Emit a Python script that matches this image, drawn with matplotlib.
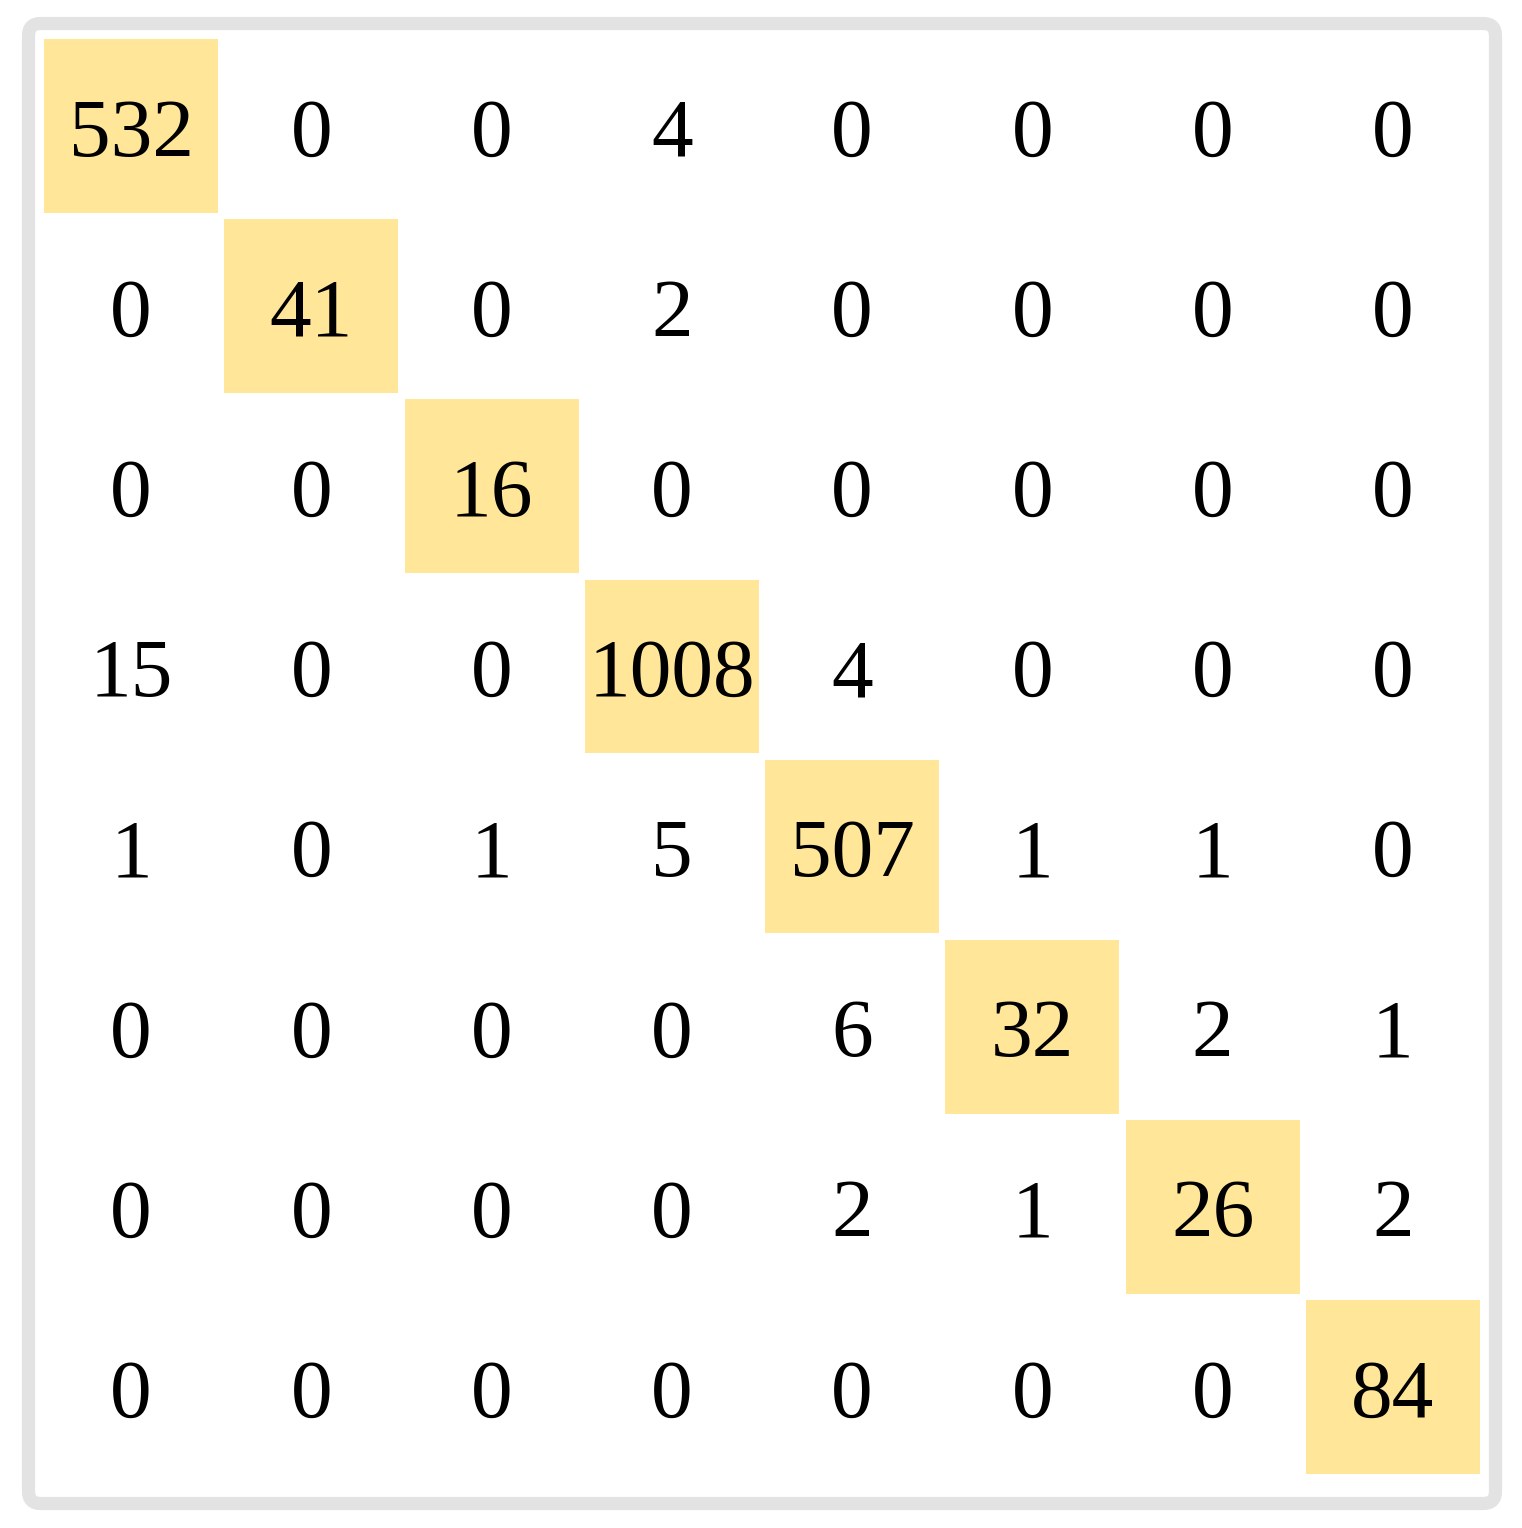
import matplotlib.pyplot as plt
from matplotlib.patches import Rectangle, FancyBboxPatch

# confusion matrix counts (rows = true class, cols = predicted class)
row0 = [532, 0, 0, 4, 0, 0, 0, 0]
row1 = [0, 41, 0, 2, 0, 0, 0, 0]
row2 = [0, 0, 16, 0, 0, 0, 0, 0]
row3 = [15, 0, 0, 1008, 4, 0, 0, 0]
row4 = [1, 0, 1, 5, 507, 1, 1, 0]
row5 = [0, 0, 0, 0, 6, 32, 2, 1]
row6 = [0, 0, 0, 0, 2, 1, 26, 2]
row7 = [0, 0, 0, 0, 0, 0, 0, 84]
matrix = [row0, row1, row2, row3, row4, row5, row6, row7]

W, H = 1522, 1528
fig = plt.figure(figsize=(W / 100, H / 100), dpi=100)

# gray outer frame
frame = FancyBboxPatch((28.5 / W, 1 - 1503.5 / H), 1467 / W, 1480 / H,
                       boxstyle="round,pad=0,rounding_size=0.008",
                       transform=fig.transFigure, facecolor="none",
                       edgecolor="#e3e3e3", linewidth=9.5, zorder=-1)
fig.patches.append(frame)

left, right, top, bottom = 41, 1483, 36, 1477
ax = fig.add_axes([left / W, 1 - bottom / H, (right - left) / W, (bottom - top) / H])
ax.set_xlim(-0.5, 7.5)
ax.set_ylim(7.5, -0.5)
ax.axis("off")

n = len(matrix)
cell = 0.965
for i in range(n):
    for j in range(n):
        if i == j:
            ax.add_patch(Rectangle((j - cell / 2, i - cell / 2), cell, cell,
                                   facecolor="#ffe699", edgecolor="none"))
        ax.text(j, i + 0.055, str(matrix[i][j]), ha="center", va="center",
                fontsize=60, family="Liberation Serif", color="black")

fig.savefig("out.png", dpi=100)
